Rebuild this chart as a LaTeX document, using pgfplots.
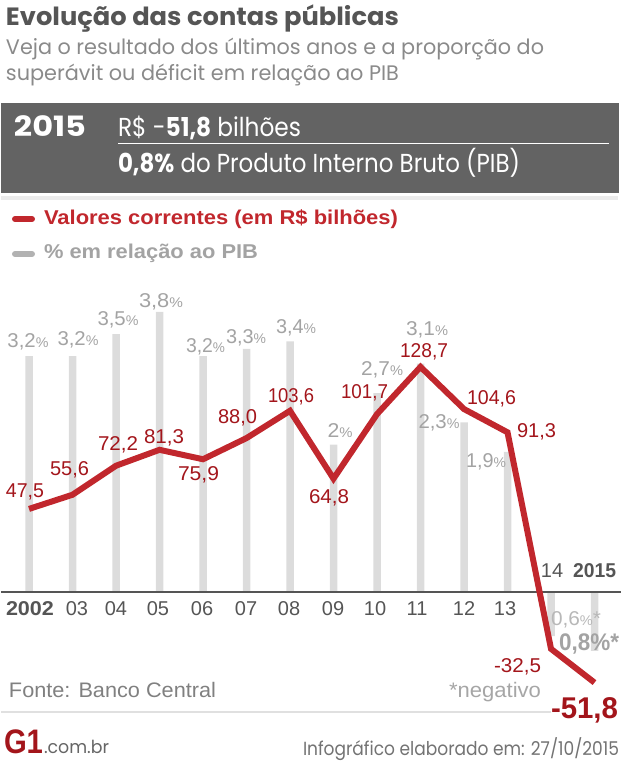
\documentclass[border=0pt]{standalone}
\usepackage{pgfplots}
\pgfplotsset{compat=1.18}
\usepackage{pgfplotstable}
\usepackage{graphicx}
\usepackage{fontspec}
\setmainfont{Liberation Sans}
\newfontfamily\pop{Poppins}
\definecolor{lred}{HTML}{C1272D}
\definecolor{dred}{HTML}{A3151B}
\definecolor{barg}{HTML}{DCDCDC}
\definecolor{pctg}{HTML}{A3A3A3}
\definecolor{dgray}{HTML}{555555}
\definecolor{boxg}{HTML}{636363}
\definecolor{titg}{HTML}{555555}
\definecolor{subg}{HTML}{8A8A8A}
\newcommand{\fs}[1]{\fontsize{#1pt}{#1pt}\selectfont}
\newcommand{\T}[6][base west]{\node[anchor=#1,inner sep=0pt,outer sep=0pt,text=#5] at (#2,#3) {\resizebox{#4pt}{\height}{#6}};}
\newcommand{\PC}[4]{\T[base]{#1}{#2}{#3}{pctg}{\fs{20}#4{\fs{14}\%}}}
\newcommand{\RV}[4]{\T[base]{#1}{#2}{#3}{dred}{\fs{20}#4}}
\newcommand{\XL}[3]{\node[anchor=base,inner sep=0pt,text=dgray] at (#1,#2) {\fs{20}#3};}

\pgfplotstableread{
x val pct
0 47.5 3.2
1 55.6 3.2
2 72.2 3.5
3 81.3 3.8
4 75.9 3.2
5 88.0 3.3
6 103.6 3.4
7 64.8 2.0
8 101.7 2.7
9 128.7 3.1
10 104.6 2.3
11 91.3 1.9
12 -32.5 -0.6
13 -51.8 -0.8
}\datatable

\begin{document}
\begin{tikzpicture}
\path (0pt,0pt) rectangle (620pt,-767pt);
\begin{scope}[x=1pt,y=-1pt]
% header
\T{5}{26}{393}{titg}{\pop\bfseries\fs{25}Evolução das contas públicas}
\T{5}{55}{538}{subg}{\pop\fs{21}Veja o resultado dos últimos anos e a proporção do}
\T{5}{81}{393}{subg}{\pop\fs{21}superávit ou déficit em relação ao PIB}
\fill[boxg] (0,103) rectangle (618,193);
\fill[black!8] (0,196) rectangle (617,200);
\T{13}{137}{72}{white}{\pop\bfseries\fs{28}2015}
\T{117}{137}{183}{white}{\pop\fs{26}R\$ -{\bfseries 51,8} bilhões}
\draw[white,line width=1pt] (117,144) -- (608,144);
\T{117}{173}{402}{white}{\pop\fs{26}{\bfseries 0,8\%} do Produto Interno Bruto (PIB)}
% legend
\draw[lred,line width=6pt,line cap=round] (14,219) -- (31,219);
\T{43}{225}{354}{lred}{\bfseries\fs{20}Valores correntes (em R\$ bilhões)}
\draw[black!30,line width=6pt,line cap=round] (14,254) -- (31,254);
\T{43}{258}{214}{pctg}{\bfseries\fs{20}\% em relação ao PIB}
\end{scope}

\begin{axis}[at={(0pt,-700pt)},anchor=south west,scale only axis,
  width=620pt,height=410pt,xmin=-0.6437,xmax=13.609,
  ymin=-1.4654,ymax=4.0977,hide axis,clip=false]
\addplot[ybar,bar width=7.5pt,fill=barg,draw=none] table[x=x,y=pct]{\datatable};
\end{axis}

\begin{scope}[x=1pt,y=-1pt]
\draw[dgray,line width=1.2pt] (0,592) -- (620,592);
\PC{27}{347}{41}{3,2}
\PC{77}{345}{41}{3,2}
\PC{117}{325}{41}{3,5}
\PC{160}{307}{44}{3,8}
\PC{204.5}{352}{39}{3,2}
\PC{245}{343}{40}{3,3}
\PC{295}{333}{40}{3,4}
\PC{339}{437}{25}{2}
\PC{381}{375}{42}{2,7}
\PC{426}{335}{42}{3,1}
\PC{438}{428}{41}{2,3}
\PC{485}{467}{40}{1,9}
\T[base]{575}{625}{50}{black!28}{\fs{20}0,6{\fs{14}\%}*}
\T[base]{588}{650}{60}{pctg}{\bfseries\fs{24}0,8\%*}
\end{scope}

\begin{axis}[at={(0pt,-700pt)},anchor=south west,scale only axis,
  width=620pt,height=410pt,xmin=-0.6437,xmax=13.609,
  ymin=-61.75,ymax=172.67,hide axis,clip=false]
\addplot[lred,line width=6pt,line join=miter,miter limit=2,mark=none] table[x=x,y=val]{\datatable};
\end{axis}

\begin{scope}[x=1pt,y=-1pt]
% value labels
\RV{24}{497}{38}{47,5}
\RV{68.5}{475}{39}{55,6}
\RV{117}{450}{40}{72,2}
\RV{163}{443}{40}{81,3}
\RV{197.5}{480}{41}{75,9}
\RV{236.5}{423}{39}{88,0}
\RV{290}{402}{46}{103,6}
\RV{328}{503}{40}{64,8}
\RV{363.5}{398}{47}{101,7}
\RV{423}{357}{48}{128,7}
\RV{490.5}{404}{49}{104,6}
\RV{535.5}{437}{39}{91,3}
\RV{516.5}{672}{47}{-32,5}
\T[base]{583.5}{718}{67}{dred}{\bfseries\fs{30}-51,8}
% x labels
\T[base]{29}{615}{48}{dgray}{\bfseries\fs{20}2002}
\XL{76}{615}{03}
\XL{115}{615}{04}
\XL{157}{615}{05}
\XL{201}{615}{06}
\XL{245}{615}{07}
\XL{288}{615}{08}
\XL{332}{615}{09}
\XL{374}{615}{10}
\XL{416}{615}{11}
\XL{463}{615}{12}
\XL{504}{615}{13}
\XL{551}{577}{14}
\T[base]{593.5}{577}{43}{dgray}{\bfseries\fs{20}2015}
% footer
\T{8}{697}{207}{black!50}{\fs{21}Fonte: Banco Central}
\T{448}{697}{92}{black!35}{\fs{21}*negativo}
\draw[black!12,line width=2pt] (0,712) -- (550,712);
\T{3}{753}{39}{dred}{\bfseries\fs{34}G1}
\T{43}{753}{65}{black!60}{\pop\fs{18}.com.br}
\T{302}{755}{316}{black!55}{\pop\fs{19}Infográfico elaborado em: 27/10/2015}
\end{scope}
\end{tikzpicture}
\end{document}
